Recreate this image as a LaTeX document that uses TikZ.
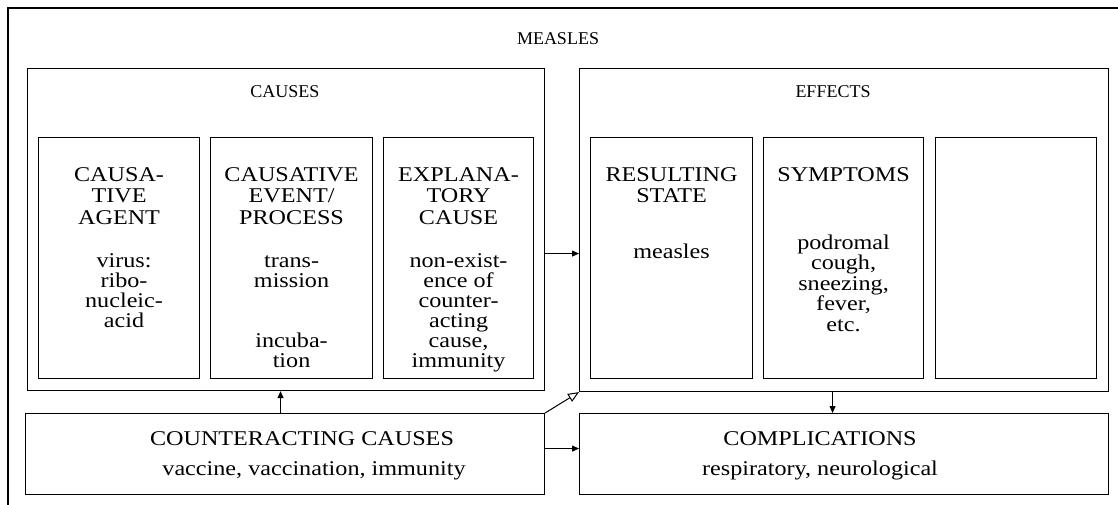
\documentclass[tikz,border=0pt]{standalone}
\usepackage{fontspec}
\setmainfont[FakeStretch=1.15]{Liberation Serif}
\newfontfamily\titlerm{Liberation Serif}
\usetikzlibrary{arrows.meta}

\begin{document}
\begin{tikzpicture}[x=1pt, y=-1pt,
  box/.style={draw, line width=1.1pt, anchor=north west, inner sep=0pt},
  title/.style={font=\titlerm\fontsize{18}{20}\selectfont, anchor=base},
  head/.style={font=\fontsize{21}{21.5}\selectfont, align=center, anchor=base, inner sep=0pt},
  body/.style={font=\fontsize{21}{20}\selectfont, align=center, anchor=base, inner sep=0pt},
  line/.style={font=\fontsize{21}{21}\selectfont, anchor=base, inner sep=0pt},
  arr/.style={line width=1pt, -{Triangle[length=7pt, width=6pt]}},
  openarr/.style={line width=1pt, -{Triangle[open, length=11pt, width=9pt, line width=1pt]}}]
  \useasboundingbox (0,0) rectangle (1118,504);
  % outer frame, cut at the page edge
  \begin{scope}
    \clip (0,0) rectangle (1118,504);
    \draw[line width=2.4pt] (8,8) rectangle (1130,520);
  \end{scope}
  \node[title] (measles) at (558,44) {MEASLES};
  % causes and effects
  \node[box, minimum width=517pt, minimum height=322pt] (causes) at (27,68) {};
  \node[box, minimum width=529pt, minimum height=323pt] (effects) at (579,68) {};
  \node[title] (causestitle) at (285,97) {CAUSES};
  \node[title] (effectstitle) at (833,97) {EFFECTS};
  \foreach \name/\xa/\bw in {agent/38/161, event/210/162, expl/383/150,
          state/590/162, sympt/763/160, blank/935/161}
  {\node[box, minimum width=\bw pt, minimum height=241pt] (\name) at (\xa,137) {};}
  % column texts (base = last line)
  \node[head] (agenthead) at ([yshift=-87pt]agent.north) {CAUSA-\\TIVE\\AGENT};
  \node[body] (agenttxt) at ([xshift=5pt, yshift=-190pt]agent.north) {virus:\\ribo-\\nucleic-\\acid};
  \node[head] (eventhead) at ([yshift=-87pt]event.north) {CAUSATIVE\\EVENT/\\PROCESS};
  \node[body] (eventtxt) at ([yshift=-230pt]event.north) {trans-\\mission\\[40pt]incuba-\\tion};
  \node[head] (explhead) at ([yshift=-87pt]expl.north) {EXPLANA-\\TORY\\CAUSE};
  \node[body] (expltxt) at ([yshift=-230pt]expl.north)
    {non-exist-\\ence of\\counter-\\acting\\cause,\\immunity};
  \node[head] (statehead) at ([yshift=-65.5pt]state.north) {RESULTING\\STATE};
  \node[body] (statetxt) at ([yshift=-121pt]state.north) {measles};
  \node[head] (sympthead) at ([yshift=-44pt]sympt.north) {SYMPTOMS};
  \node[body, font=\fontsize{21}{20.5}\selectfont] (sympttxt) at ([yshift=-194pt]sympt.north)
    {podromal\\cough,\\sneezing,\\fever,\\etc.};
  % bottom row
  \node[box, minimum width=519pt, minimum height=81pt] (counter) at (25,413) {};
  \node[box, minimum width=529pt, minimum height=81pt] (compl) at (579,413) {};
  \node[line] (counterhead) at (302,445) {COUNTERACTING CAUSES};
  \node[line] (countertxt) at (314,475) {vaccine, vaccination, immunity};
  \node[line] (complhead) at (820,445) {COMPLICATIONS};
  \node[line] (compltxt) at (820,475) {respiratory, neurological};
  % connectors
  \draw[arr] ([yshift=-24pt]causes.east) -- ([yshift=-24pt]causes.east -| effects.west);
  \draw[arr] ([xshift=-4.5pt]counter.north) -- ([xshift=-4.5pt]counter.north |- causes.south);
  \draw[arr] ([xshift=-11.5pt]effects.south) -- ([xshift=-11.5pt]effects.south |- compl.north);
  \draw[openarr] (counter.north east) -- (effects.south west);
  \draw[arr] ([yshift=5.5pt]counter.east) -- ([yshift=5.5pt]counter.east -| compl.west);
\end{tikzpicture}
\end{document}
